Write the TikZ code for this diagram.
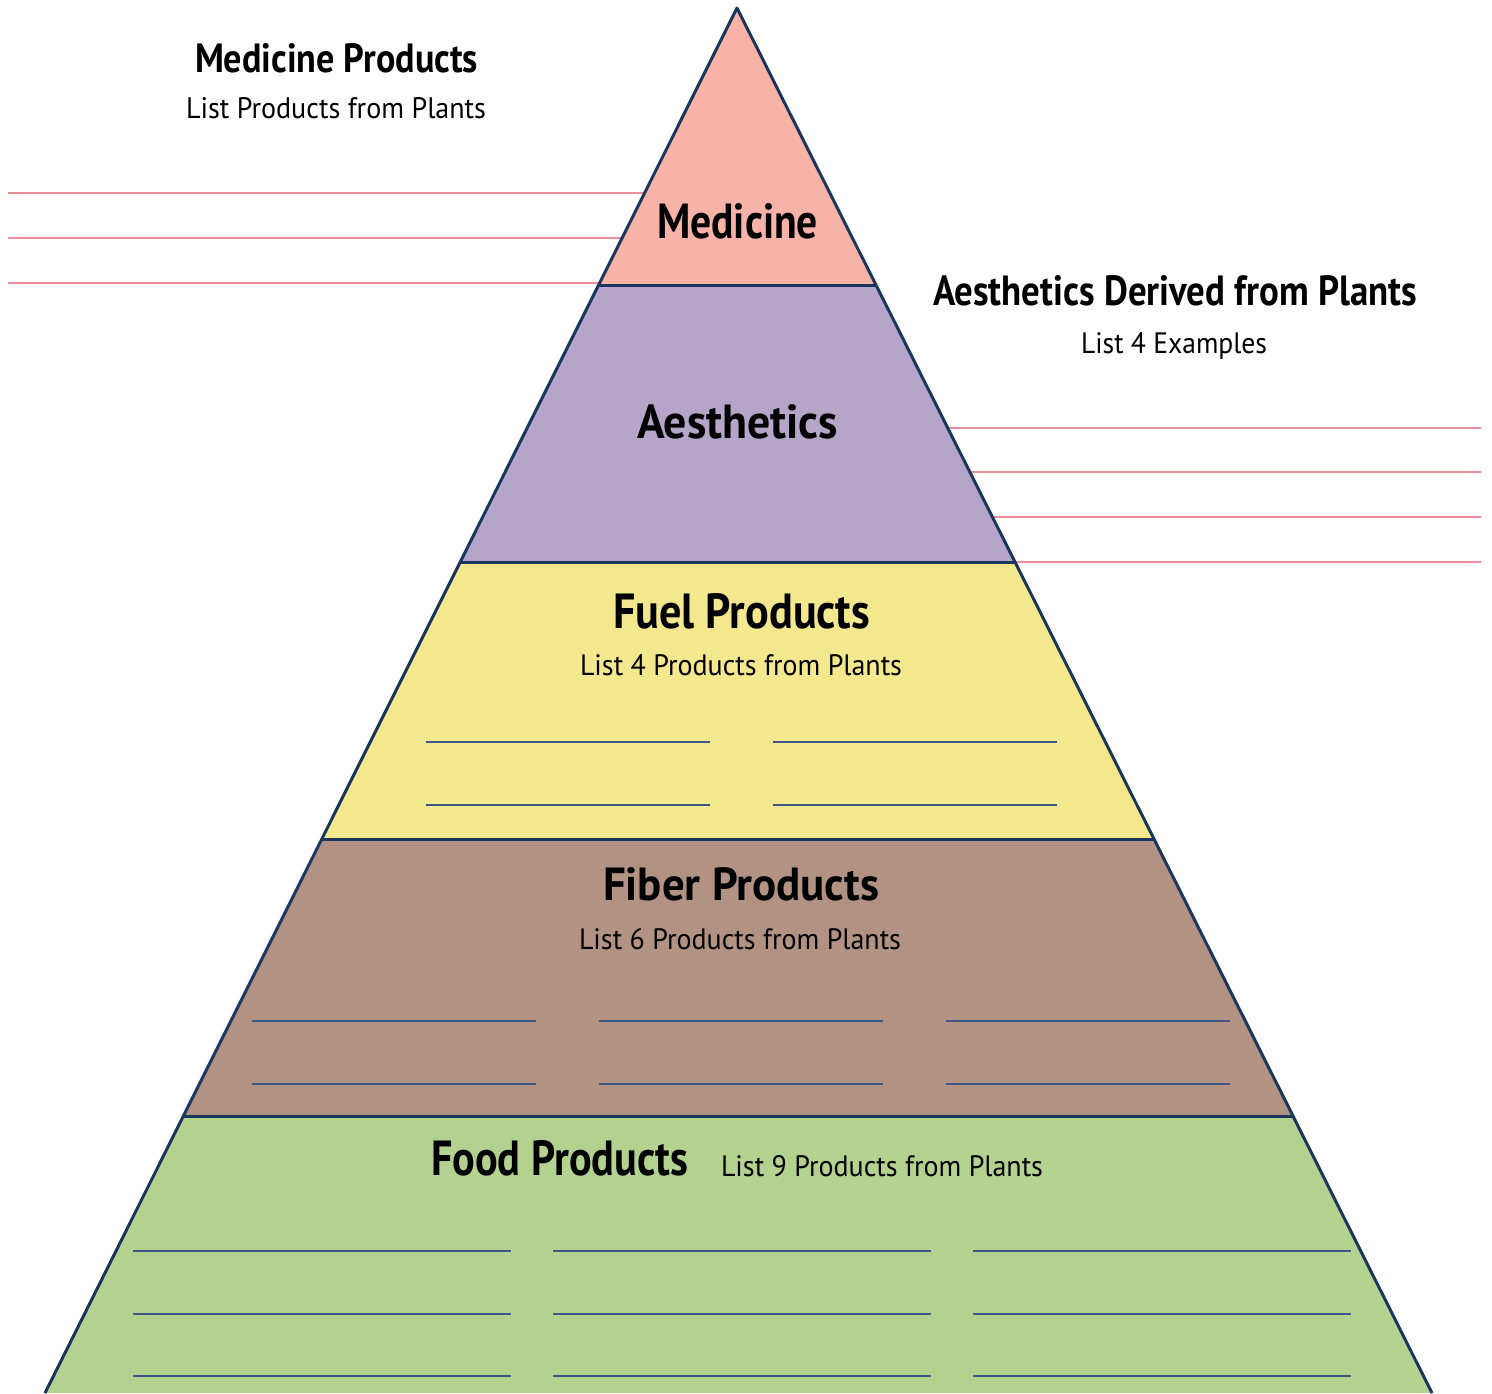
\documentclass[tikz,border=0pt]{standalone}
\usepackage{fontspec}
\setmainfont{PT Sans}
\usetikzlibrary{calc}
\definecolor{medc}{HTML}{F8B3A8}
\definecolor{aesc}{HTML}{B4A5C9}
\definecolor{fuelc}{HTML}{F4E88F}
\definecolor{fibc}{HTML}{B29383}
\definecolor{foodc}{HTML}{B4D28F}
\definecolor{edgec}{HTML}{1B365D}
\definecolor{wlc}{HTML}{3B5785}
\definecolor{rlc}{HTML}{DA5563}
\newcommand{\hdtxt}[3]{\resizebox{#1pt}{#2pt}{\bfseries #3}}
\newcommand{\subtxt}[3]{\resizebox{#1pt}{#2pt}{#3}}
\begin{document}
\begin{tikzpicture}[x=1pt,y=-1pt,
  sep/.style={draw=edgec,line width=3pt,line join=round},
  wline/.style={draw=wlc,line width=1.3pt},
  rline/.style={draw=rlc,line width=1.2pt},
  txt/.style={inner sep=0pt,outer sep=0pt,anchor=base west,text=black}]
\useasboundingbox (0,0) rectangle (1492,1393);
\coordinate (A) at (737,8);
\coordinate (L) at (45,1393);
\coordinate (R) at (1432,1393);
\foreach \t/\n in {0.2/1,0.4/2,0.6/3,0.8/4}{
  \coordinate (L\n) at ($(A)!\t!(L)$);
  \coordinate (R\n) at ($(A)!\t!(R)$);
}
% bands
\fill[medc] (A) -- (R1) -- (L1) -- cycle;
\fill[aesc] (L1) -- (R1) -- (R2) -- (L2) -- cycle;
\fill[fuelc] (L2) -- (R2) -- (R3) -- (L3) -- cycle;
\fill[fibc] (L3) -- (R3) -- (R4) -- (L4) -- cycle;
\fill[foodc] (L4) -- (R4) -- (R) -- (L) -- cycle;
% writing lines
\foreach \y in {742,805}{
  \draw[wline] (426,\y) -- (710,\y);
  \draw[wline] (773,\y) -- (1057,\y);
}
\foreach \y in {1021,1084}{
  \draw[wline] (252,\y) -- (536,\y);
  \draw[wline] (599,\y) -- (883,\y);
  \draw[wline] (946,\y) -- (1230,\y);
}
\foreach \y in {1251,1314,1376}{
  \draw[wline] (133,\y) -- (511,\y);
  \draw[wline] (553,\y) -- (931,\y);
  \draw[wline] (973,\y) -- (1351,\y);
}
% red lines
\coordinate (lr1) at ($(A)!0.13357!(L)$);
\coordinate (lr2) at ($(A)!0.16606!(L)$);
\coordinate (lr3) at ($(A)!0.19856!(L)$);
\coordinate (le1) at (8,193);
\coordinate (le2) at (8,238);
\coordinate (le3) at (8,283);
\draw[rline] (le1) -- (lr1);
\draw[rline] (le2) -- (lr2);
\draw[rline] (le3) -- (lr3);
\coordinate (rr1) at ($(A)!0.30325!(R)$);
\coordinate (rr2) at ($(A)!0.33502!(R)$);
\coordinate (rr3) at ($(A)!0.36751!(R)$);
\coordinate (rr4) at ($(A)!0.4!(R)$);
\coordinate (re1) at (1481,428);
\coordinate (re2) at (1481,472);
\coordinate (re3) at (1481,517);
\coordinate (re4) at (1481,562);
\draw[rline] (rr1) -- (re1);
\draw[rline] (rr2) -- (re2);
\draw[rline] (rr3) -- (re3);
\draw[rline] (rr4) -- (re4);
% outlines
\draw[sep] (L1) -- (R1);
\draw[sep] (L2) -- (R2);
\draw[sep] (L3) -- (R3);
\draw[sep] (L4) -- (R4);
\draw[sep] (L) -- (A) -- (R);
% texts
\node[txt] (medh) at (195,72) {\hdtxt{283}{29}{Medicine Products}};
\node[txt] (meds) at (186,118) {\subtxt{300}{21}{List Products from Plants}};
\node[txt] (med) at (657,238) {\hdtxt{161}{35}{Medicine}};
\node[txt] (aesh) at (933,305) {\hdtxt{484}{30}{Aesthetics Derived from Plants}};
\node[txt] (aess) at (1081,353) {\subtxt{186}{21}{List 4 Examples}};
\node[txt] (aes) at (637,438) {\hdtxt{201}{34}{Aesthetics}};
\node[txt] (fuel) at (613,628) {\hdtxt{257}{35}{Fuel Products}};
\node[txt] (fuels) at (580,675) {\subtxt{322}{21}{List 4 Products from Plants}};
\node[txt] (fib) at (603,900) {\hdtxt{276}{33}{Fiber Products}};
\node[txt] (fibs) at (579,949) {\subtxt{322}{21}{List 6 Products from Plants}};
\node[txt] (food) at (431,1175) {\hdtxt{257}{35}{Food Products}};
\node[txt] (foods) at (721,1176) {\subtxt{322}{21}{List 9 Products from Plants}};
\end{tikzpicture}
\end{document}
